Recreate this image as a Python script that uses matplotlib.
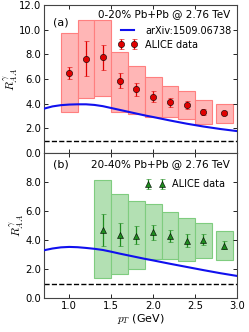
import numpy as np
import matplotlib
matplotlib.use('Agg')
import matplotlib.pyplot as plt
from matplotlib.patches import Rectangle

plt.rcParams['mathtext.fontset'] = 'cm'
plt.rcParams['font.size'] = 7

# 0-20% centrality
pt_a = [1.0, 1.2, 1.4, 1.6, 1.8, 2.0, 2.2, 2.4, 2.6, 2.85]
raa_a = [6.5, 7.65, 7.75, 5.85, 5.2, 4.55, 4.15, 3.9, 3.35, 3.25]
stat_lo_a = [6.0, 6.25, 6.75, 5.3, 4.6, 4.1, 3.75, 3.6, 3.1, 3.1]
stat_hi_a = [7.0, 9.05, 8.75, 6.5, 5.7, 5.0, 4.5, 4.2, 3.6, 3.4]
sys_lo_a = [3.3, 4.5, 4.65, 3.35, 3.2, 2.9, 2.9, 2.75, 2.35, 2.45]
sys_hi_a = [9.75, 10.8, 10.8, 8.15, 7.05, 6.2, 5.45, 5.0, 4.3, 4.0]

# 20-40% centrality
pt_b = [1.4, 1.6, 1.8, 2.0, 2.2, 2.4, 2.6, 2.85]
raa_b = [4.73, 4.37, 4.3, 4.55, 4.27, 3.95, 3.98, 3.61]
stat_lo_b = [3.61, 3.59, 3.73, 4.0, 3.86, 3.54, 3.66, 3.36]
stat_hi_b = [5.83, 5.21, 4.98, 5.07, 4.73, 4.41, 4.39, 3.95]
sys_lo_b = [1.37, 1.65, 2.01, 2.67, 2.7, 2.54, 2.79, 2.63]
sys_hi_b = [8.11, 7.2, 6.72, 6.51, 5.92, 5.49, 5.19, 4.64]

# theory curves (arXiv:1509.06738)
pt_th = [0.7, 0.8, 0.9, 1.0, 1.1, 1.2, 1.3, 1.4, 1.5, 1.6, 1.7, 1.8, 1.9,
         2.0, 2.2, 2.4, 2.6, 2.8, 3.0]
th_a = [3.6, 3.78, 3.88, 3.93, 3.95, 3.95, 3.9, 3.8, 3.65, 3.5, 3.35, 3.2,
        3.05, 2.92, 2.64, 2.38, 2.15, 1.95, 1.78]
th_b = [3.3, 3.42, 3.5, 3.53, 3.51, 3.46, 3.4, 3.32, 3.2, 3.07, 2.95, 2.83,
        2.71, 2.6, 2.37, 2.15, 1.93, 1.72, 1.53]

xticks = [1.0, 1.5, 2.0, 2.5, 3.0]
box_w = 0.2

fig = plt.figure(figsize=(2.49, 3.32), dpi=100)
ax1 = fig.add_axes([0.177, 0.539, 0.775, 0.446])
ax2 = fig.add_axes([0.177, 0.102, 0.775, 0.437])


def draw_panel(ax, pt, raa, slo, shi, ylo, yhi, marker, mcol, fcol, ecol):
    # systematic boxes
    for x, lo, hi in zip(pt, ylo, yhi):
        ax.add_patch(Rectangle((x - box_w / 2, lo), box_w, hi - lo,
                               facecolor=fcol, edgecolor=ecol, lw=0.8))
    ax.errorbar(pt, raa,
                yerr=[np.array(raa) - np.array(slo), np.array(shi) - np.array(raa)],
                fmt=marker, color=mcol, mfc=mcol, mec='k', mew=0.4, ms=4.5,
                ecolor=mcol, elinewidth=0.9, capsize=1.8, capthick=0.8,
                label='ALICE data', zorder=4)
    ax.axhline(1.0, color='k', ls='--', lw=1.0)
    ax.set_xlim(0.7, 3.0)
    ax.set_xticks(xticks)
    ax.tick_params(direction='in', top=True, right=True, length=3, width=0.6,
                   labelsize=7.2, pad=2)
    for s in ax.spines.values():
        s.set_color('#444444')
        s.set_linewidth(0.8)
    ax.set_ylabel(r'$R^{\gamma}_{AA}$', fontsize=8.5)


draw_panel(ax1, pt_a, raa_a, stat_lo_a, stat_hi_a, sys_lo_a, sys_hi_a,
           'o', '#e00000', '#ffb6b6', '#ff7f7f')
ax1.plot(pt_th, th_a, color='#1010ee', lw=1.5, label='arXiv:1509.06738', zorder=3)
ax1.text(0.047, 0.86, '(a)', transform=ax1.transAxes, fontsize=8)
ax1.text(0.965, 0.915, '0-20% Pb+Pb @ 2.76 TeV', transform=ax1.transAxes,
         fontsize=7.5, ha='right')
ax1.yaxis.set_label_coords(-0.125, 0.5)

draw_panel(ax2, pt_b, raa_b, stat_lo_b, stat_hi_b, sys_lo_b, sys_hi_b,
           '^', '#1e8c1e', '#b3e0b3', '#7fcc7f')
ax2.plot(pt_th, th_b, color='#1010ee', lw=1.5, zorder=3)
ax2.text(0.047, 0.9, '(b)', transform=ax2.transAxes, fontsize=8)
ax2.text(0.965, 0.9, '20-40% Pb+Pb @ 2.76 TeV', transform=ax2.transAxes,
         fontsize=7.5, ha='right')
ax2.yaxis.set_label_coords(-0.095, 0.5)

ax1.set_ylim(0, 12)
ax1.set_yticks(np.arange(0, 12.1, 2))
ax1.set_yticklabels(['%.1f' % v for v in np.arange(0, 12.1, 2)])
ax1.set_xticklabels([])

ax2.set_ylim(0, 10)
ax2.set_yticks(np.arange(0, 8.1, 2))
ax2.set_yticklabels(['%.1f' % v for v in np.arange(0, 8.1, 2)])
ax2.set_xticklabels(['%.1f' % v for v in xticks])
ax2.set_xlabel(r'$p_T$ (GeV)', fontsize=8, labelpad=1)

h, l = ax1.get_legend_handles_labels()
order = [l.index('arXiv:1509.06738'), l.index('ALICE data')]
ax1.legend([h[i] for i in order], [l[i] for i in order], loc='upper right',
           bbox_to_anchor=(1.0, 0.9), frameon=False, fontsize=7, numpoints=2,
           handlelength=2.0, borderaxespad=0.2, labelspacing=0.4)
ax2.legend(loc='upper right', bbox_to_anchor=(0.97, 0.86), frameon=False,
           fontsize=7, numpoints=2, handlelength=2.0, borderaxespad=0.2)

fig.savefig('out.png', dpi=100)
plt.close(fig)
